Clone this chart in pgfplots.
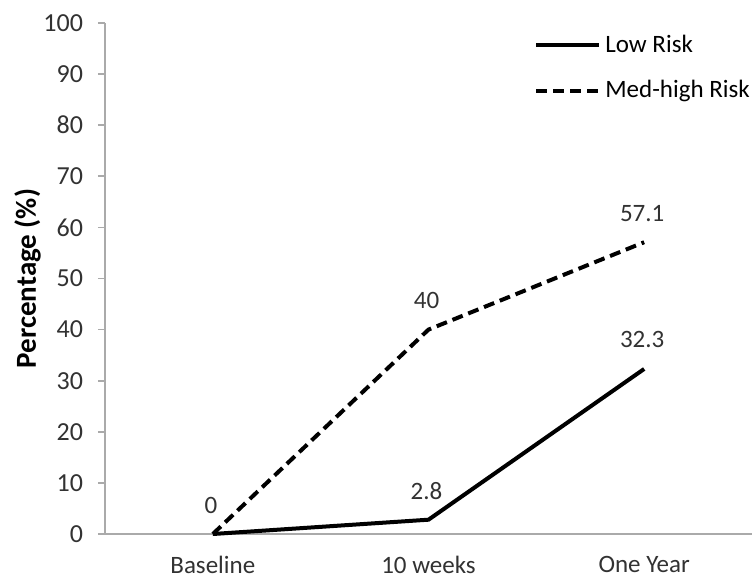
\documentclass[border=0pt]{standalone}
\usepackage{pgfplots}
\pgfplotsset{compat=1.18}
\usepackage{fontspec}
\setmainfont{Carlito}
\definecolor{axgray}{RGB}{170,170,170}
\definecolor{txt}{RGB}{50,50,50}
\begin{document}
\begin{tikzpicture}
\begin{axis}[
  name=ax,
  scale only axis,
  width=323.5pt, height=255.5pt,
  xmin=-0.5, xmax=2.5,
  ymin=0, ymax=100,
  axis x line*=bottom,
  axis y line*=left,
  axis line style={axgray, line width=0.8pt},
  xtick={0,1,2},
  xticklabels={Baseline,10 weeks,One Year},
  minor xtick={-0.5,0.5,1.5,2.5},
  ytick={0,10,...,100},
  tick align=outside,
  major tick length=3.5pt,
  minor tick length=4pt,
  xtick style={draw=none},
  minor x tick style={axgray, line width=0.8pt},
  ytick style={axgray, line width=0.8pt},
  tick label style={font=\fontsize{12.5}{14}\selectfont, text=txt},
  /pgf/number format/assume math mode=true,
  yticklabel style={xshift=-4pt, font=\fontsize{13}{14}\selectfont},
  xticklabel style={yshift=-4pt},
  ylabel={\textbf{Percentage (\%)}},
  ylabel style={font=\fontsize{14.5}{16}\selectfont, text=black, yshift=-5.5pt},
  clip=false,
  legend cell align=left,
  legend style={draw=none, fill=none, at={(0.663,0.985)}, anchor=north west,
    font=\fontsize{12.5}{14}\selectfont, row sep=8.5pt, inner sep=0pt},
  legend image code/.code={\draw[#1] (0pt,0pt) -- (31.5pt,0pt);},
  nodes near coords,
  every node near coord/.append style={anchor=center, yshift=14.5pt, xshift=-1pt,
    font=\fontsize{12.5}{14}\selectfont, text=txt},
]
\addplot[black, line width=2pt, point meta=explicit symbolic,
  nodes near coords={\pgfplotspointmeta}]
  coordinates {(0,0)[] (1,2.8)[2.8] (2,32.3)[32.3]};
\addlegendentry{Low Risk}
\addplot[black, line width=2pt, dash pattern=on 5.5pt off 3pt, point meta=explicit symbolic,
  nodes near coords={\pgfplotspointmeta}]
  coordinates {(0,0)[0] (1,40)[40] (2,57.1)[57.1]};
\addlegendentry{Med-high Risk}
\end{axis}
\path ([xshift=-52.5pt,yshift=-21pt]ax.south west) rectangle ([xshift=2pt,yshift=11.5pt]ax.north east);
\end{tikzpicture}
\end{document}
